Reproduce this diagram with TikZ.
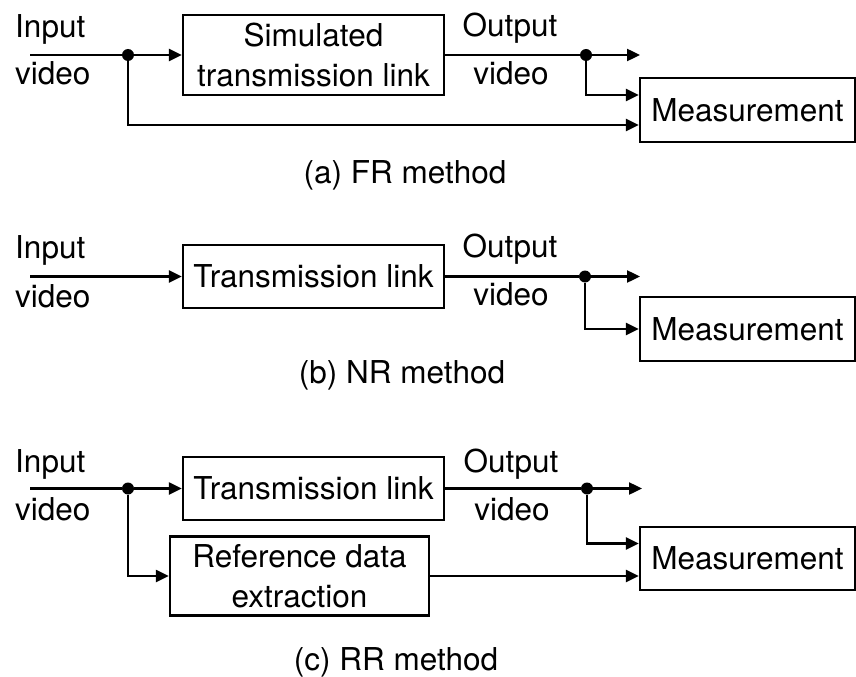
\documentclass[tikz,border=0pt]{standalone}
\usepackage{fontspec}
\setmainfont{TeX Gyre Heros}
\usetikzlibrary{arrows.meta}

\tikzset{
  wire/.style={line width=2.4bp},
  arr/.style={wire, -{Triangle[length=13bp,width=12bp]}},
  blockbox/.style={draw, line width=2.4bp, inner sep=0pt, align=center,
                   font=\fontsize{31.5bp}{40bp}\selectfont},
  jdot/.style={circle, fill, inner sep=0pt, minimum size=12bp},
  lbl/.style={inner sep=0pt, anchor=base west, font=\fontsize{31.5bp}{38bp}\selectfont},
  olbl/.style={inner sep=0pt, anchor=base, font=\fontsize{31.5bp}{38bp}\selectfont},
  captext/.style={inner sep=0pt, anchor=base, font=\fontsize{31.5bp}{38bp}\selectfont},
}

\begin{document}
\begin{tikzpicture}[x=1bp, y=-1bp]
\useasboundingbox (0,0) rectangle (856,677);

% ---------- (a) FR method ----------
\node[lbl] (ina-t) at (15,38) {Input};
\node[lbl] (ina-b) at (15,85) {video};
\coordinate (ina) at (30,55);
\node[jdot] (ja) at (128,55) {};
\node[blockbox, minimum width=261bp, minimum height=80bp] (sima) at (313.5,55)
  {Simulated\\transmission link};
\node[jdot] (ka) at (586,55) {};
\coordinate (outa) at (640,55);
\node[olbl] (outa-t) at (510,37) {Output};
\node[olbl] (outa-b) at (511,85) {video};
\node[blockbox, minimum width=215bp, minimum height=64bp] (measa) at (747.5,110) {Measurement};

\draw[wire] (ina) -- (ja);
\draw[arr] (ja) -- (sima.west);
\draw[wire] (sima.east) -- (ka);
\draw[arr] (ka) -- (outa);
\draw[arr] (ka) |- ([yshift=15bp]measa.west);
\draw[arr] (ja) |- ([yshift=-15bp]measa.west);

\node[captext] (capa) at (405,183) {(a) FR method};

% ---------- (b) NR method ----------
\node[lbl] (inb-t) at (15,258) {Input};
\node[lbl] (inb-b) at (15,307) {video};
\coordinate (inb) at (30,276.5);
\node[blockbox, minimum width=261bp, minimum height=63bp] (tb) at (313.5,276.5)
  {Transmission link};
\node[jdot] (kb) at (585,276.5) {};
\coordinate (outb) at (640,276.5);
\node[olbl] (outb-t) at (510,257) {Output};
\node[olbl] (outb-b) at (511,305) {video};
\node[blockbox, minimum width=215bp, minimum height=64bp] (measb) at (747.5,329) {Measurement};

\draw[arr] (inb) -- (tb.west);
\draw[wire] (tb.east) -- (kb);
\draw[arr] (kb) -- (outb);
\draw[arr] (kb) |- (measb.west);

\node[captext] (capb) at (402,383) {(b) NR method};

% ---------- (c) RR method ----------
\node[lbl] (inc-t) at (15,472) {Input};
\node[lbl] (inc-b) at (15,520) {video};
\coordinate (inc) at (30,488.5);
\node[jdot] (jc) at (128,488.5) {};
\node[blockbox, minimum width=261bp, minimum height=63bp] (tc) at (313.5,488.5)
  {Transmission link};
\node[blockbox, minimum width=259bp, minimum height=79bp] (refc) at (299.5,576)
  {Reference data\\extraction};
\node[jdot] (kc) at (587,488.5) {};
\coordinate (outc) at (642,488.5);
\node[olbl] (outc-t) at (511,472) {Output};
\node[olbl] (outc-b) at (512,520) {video};
\node[blockbox, minimum width=215bp, minimum height=63bp] (measc) at (747.5,558.5) {Measurement};

\draw[wire] (inc) -- (jc);
\draw[arr] (jc) -- (tc.west);
\draw[arr] (jc) |- (refc.west);
\draw[wire] (tc.east) -- (kc);
\draw[arr] (kc) -- (outc);
\draw[arr] (kc) |- ([yshift=15bp]measc.west);
\draw[arr] (refc.east) -- (refc.east -| measc.west);

\node[captext] (capc) at (396,670) {(c) RR method};
\end{tikzpicture}
\end{document}
